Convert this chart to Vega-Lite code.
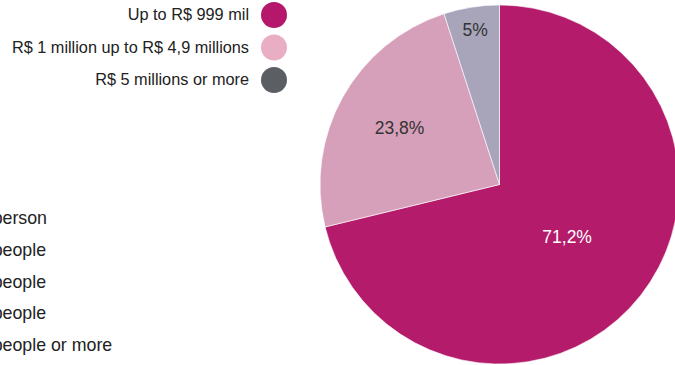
{
  "$schema": "https://vega.github.io/schema/vega-lite/v6.json",
  "width": 359,
  "height": 359,
  "autosize": {"type": "none"},
  "padding": {"left": 320, "top": 5, "right": -4, "bottom": 1},
  "background": "white",
  "config": {"view": {"stroke": null}, "font": "Liberation Sans"},
  "datasets": {
    "income": [
      {"range": "Up to R$ 999 mil", "share": 71.2, "label": "71,2%", "order": 1},
      {"range": "R$ 1 million up to R$ 4,9 millions", "share": 23.8, "label": "23,8%", "order": 2},
      {"range": "R$ 5 millions or more", "share": 5, "label": "5%", "order": 3}
    ],
    "household": [
      {"size": "1 person"},
      {"size": "2 people"},
      {"size": "3 people"},
      {"size": "4 people"},
      {"size": "5 people or more"}
    ]
  },
  "layer": [
    {
      "data": {"name": "income"},
      "mark": {"type": "arc", "radius": 179.5, "stroke": "white", "strokeWidth": 0.6},
      "encoding": {
        "theta": {"field": "share", "type": "quantitative", "stack": true},
        "order": {"field": "order", "type": "quantitative"},
        "fill": {
          "field": "range",
          "type": "nominal",
          "scale": {"range": ["#d7a0ba", "#a8a5bb", "#b41c6b"]},
          "legend": null
        }
      }
    },
    {
      "data": {"name": "income"},
      "mark": {"type": "text", "font": "Liberation Sans", "fontSize": 17.5},
      "encoding": {
        "theta": {"field": "share", "type": "quantitative", "stack": true},
        "order": {"field": "order", "type": "quantitative"},
        "radius": {"field": "share", "type": "quantitative", "scale": {"type": "log", "zero": false, "domain": [5, 71.2], "range": [155, 86]}},
        "text": {"field": "label"},
        "color": {"condition": {"test": "datum.share > 50", "value": "white"}, "value": "#333333"}
      }
    },
    {
      "data": {"name": "income"},
      "mark": {"type": "point", "filled": true, "opacity": 0},
      "encoding": {
        "color": {
          "field": "range",
          "type": "nominal",
          "scale": {
            "domain": ["Up to R$ 999 mil", "R$ 1 million up to R$ 4,9 millions", "R$ 5 millions or more"],
            "range": ["#b5176b", "#e9aec4", "#5b5e62"]
          },
          "legend": {
            "orient": "none",
            "legendX": -59,
            "legendY": -3,
            "title": null,
            "direction": "vertical",
            "symbolType": "circle",
            "symbolSize": 676,
            "symbolStrokeWidth": 0,
            "symbolOpacity": 1,
            "labelFont": "Liberation Sans",
            "labelFontSize": 16.3,
            "labelColor": "#222222",
            "labelLimit": 400,
            "labelAlign": "right",
            "labelOffset": -38,
            "rowPadding": 6.5,
            "padding": 0
          }
        }
      }
    },
    {
      "data": {"name": "household"},
      "mark": {"type": "point", "opacity": 0},
      "encoding": {
        "shape": {
          "field": "size",
          "type": "nominal",
          "legend": {
            "orient": "none",
            "legendX": -360,
            "legendY": 205,
            "title": null,
            "direction": "vertical",
            "symbolSize": 1,
            "symbolOpacity": 0,
            "symbolStrokeWidth": 0,
            "labelOffset": 0,
            "labelFont": "Liberation Sans",
            "labelFontSize": 17.8,
            "labelColor": "#222222",
            "labelLimit": 400,
            "rowPadding": 12.8,
            "padding": 0
          }
        }
      }
    }
  ]
}
